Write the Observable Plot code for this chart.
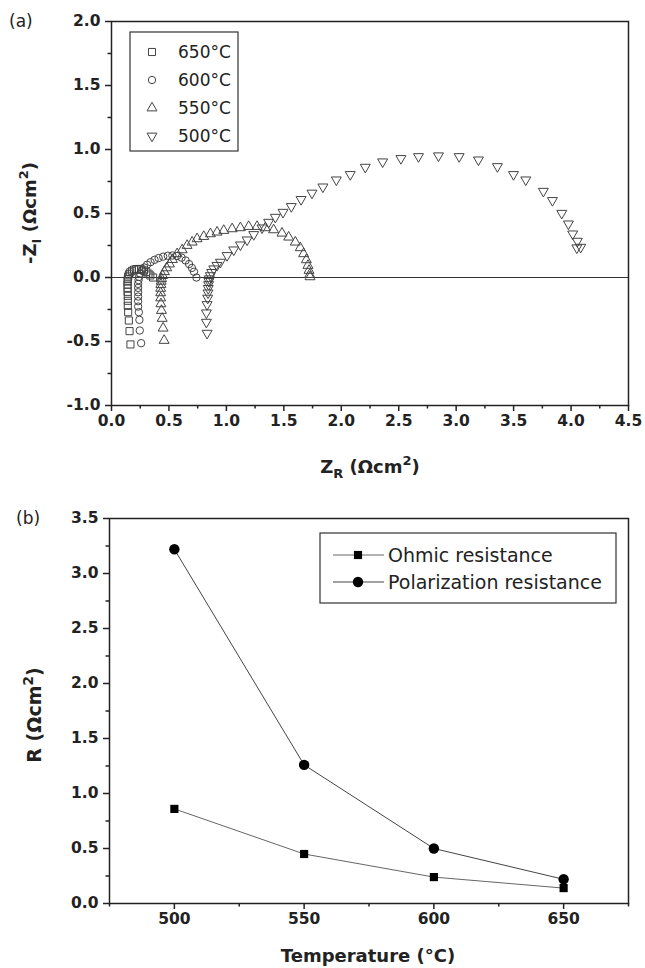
<!DOCTYPE html>
<html><head><meta charset="utf-8">
<script src="https://cdn.jsdelivr.net/npm/d3@7"></script>
<script src="https://cdn.jsdelivr.net/npm/@observablehq/plot@0.6"></script>
<style>body{margin:0;background:#fff} svg{display:block}</style>
</head><body><div id="a"></div><div id="b"></div>
<script>
// ---------- Panel (a): Nyquist data ----------
const legendA = ["650°C", "600°C", "550°C", "500°C"];
const zR650 = [0.165,0.157,0.151,0.145,0.142,0.142,0.142,0.140,0.140,0.140,0.140,0.142,0.145,0.152,0.163,0.178,0.196,0.216,0.238,0.260,0.282,0.303,0.322,0.338,0.362];
const zI650 = [-0.523,-0.419,-0.336,-0.271,-0.221,-0.182,-0.143,-0.112,-0.081,-0.055,-0.032,-0.012,0.008,0.025,0.040,0.052,0.061,0.066,0.067,0.063,0.055,0.044,0.030,0.016,0.000];
const zR600 = [0.258,0.246,0.243,0.238,0.232,0.232,0.232,0.232,0.232,0.232,0.235,0.240,0.250,0.265,0.285,0.310,0.340,0.375,0.410,0.450,0.490,0.530,0.570,0.610,0.645,0.675,0.700,0.718,0.739];
const zI600 = [-0.513,-0.414,-0.331,-0.271,-0.227,-0.185,-0.149,-0.115,-0.081,-0.050,-0.020,0.005,0.030,0.055,0.078,0.100,0.120,0.138,0.152,0.163,0.170,0.172,0.168,0.155,0.133,0.105,0.075,0.045,0.000];
const zR550 = [0.458,0.449,0.441,0.435,0.430,0.428,0.428,0.428,0.430,0.432,0.436,0.445,0.460,0.480,0.505,0.530,0.571,0.615,0.658,0.702,0.745,0.803,0.861,0.919,0.977,1.050,1.122,1.194,1.267,1.339,1.411,1.484,1.542,1.600,1.643,1.672,1.696,1.710,1.719,1.725,1.728];
const zI550 = [-0.492,-0.396,-0.320,-0.258,-0.206,-0.160,-0.120,-0.085,-0.055,-0.030,-0.010,0.015,0.045,0.075,0.105,0.140,0.185,0.216,0.250,0.276,0.302,0.320,0.341,0.354,0.367,0.380,0.388,0.398,0.398,0.388,0.372,0.346,0.315,0.276,0.232,0.185,0.138,0.094,0.055,0.023,0.005];
const zR500 = [0.832,0.826,0.826,0.832,0.837,0.840,0.842,0.845,0.848,0.852,0.860,0.872,0.890,0.918,0.948,1.006,1.064,1.122,1.180,1.238,1.310,1.368,1.426,1.493,1.565,1.650,1.745,1.840,1.957,2.078,2.209,2.360,2.519,2.672,2.846,3.026,3.194,3.359,3.499,3.606,3.759,3.838,3.919,3.977,4.014,4.055,4.084,4.050];
const zI500 = [-0.435,-0.349,-0.276,-0.211,-0.161,-0.120,-0.085,-0.055,-0.030,-0.010,0.015,0.040,0.068,0.095,0.120,0.172,0.216,0.255,0.294,0.336,0.388,0.432,0.471,0.510,0.555,0.610,0.660,0.708,0.763,0.805,0.862,0.904,0.930,0.945,0.951,0.945,0.919,0.867,0.805,0.763,0.674,0.602,0.502,0.419,0.341,0.284,0.237,0.232];
const xTicksA = [0,0.5,1,1.5,2,2.5,3,3.5,4,4.5];
const xMinorA = [0.25,0.75,1.25,1.75,2.25,2.75,3.25,3.75,4.25];
const yTicksA = [-1,-0.5,0,0.5,1,1.5,2];
const yMinorA = [-0.75,-0.25,0.25,0.75,1.25,1.75];

// ---------- Panel (b): resistance data ----------
const temps = [500, 550, 600, 650];
const ohmic = [0.86, 0.45, 0.24, 0.14];
const polarization = [3.22, 1.26, 0.50, 0.22];
const legendB = ["Ohmic resistance", "Polarization resistance"];
const xTicksB = [500, 550, 600, 650];
const xMinorB = [475, 525, 575, 625, 675];
const yTicksB = [0,0.5,1,1.5,2,2.5,3,3.5];
const yMinorB = [0.25,0.75,1.25,1.75,2.25,2.75,3.25];

const FONT = "DejaVu Sans";
const fmt1 = d => d.toFixed(1);

function axes(xT, xM, yT, yM, xfmt, yfmt) {
  return [
    Plot.axisX({ticks: xT, tickSize: 6, tickPadding: 3, tickFormat: xfmt, fontWeight: "bold", fontSize: 15.5, strokeWidth: 1.5, label: null}),
    Plot.axisX({ticks: xM, tickSize: 3.5, tickFormat: () => "", strokeWidth: 1.5, label: null}),
    Plot.axisY({ticks: yT, tickSize: 6, tickPadding: 5, tickFormat: yfmt, fontWeight: "bold", fontSize: 15.5, strokeWidth: 1.5, label: null}),
    Plot.axisY({ticks: yM, tickSize: 3.5, tickFormat: () => "", strokeWidth: 1.5, label: null})
  ];
}

const mk = (xs, ys) => xs.map((x, i) => ({x, y: ys[i]}));
const symStyle = {x: "x", y: "y", fill: "none", stroke: "#444", strokeWidth: 1};

const plotA = Plot.plot({
  width: 645, height: 484,
  marginLeft: 111, marginRight: 17, marginTop: 21, marginBottom: 79,
  style: {fontFamily: FONT, fontSize: "15px", background: "#fff", color: "#222"},
  x: {domain: [0, 4.5]},
  y: {domain: [-1, 2]},
  marks: [
    Plot.ruleY([0], {stroke: "#333", strokeWidth: 1.2}),
    Plot.dot(mk(zR650, zI650), {...symStyle, symbol: "square", r: 4}),
    Plot.dot(mk(zR600, zI600), {...symStyle, symbol: "circle", r: 3.7}),
    Plot.dot(mk(zR550, zI550), {...symStyle, symbol: "triangle", r: 3.7}),
    Plot.dot(mk(zR500, zI500), {...symStyle, symbol: "triangle", r: 3.7, rotate: 180}),
    Plot.frame({stroke: "#222", strokeWidth: 1.5}),
    ...axes(xTicksA, xMinorA, yTicksA, yMinorA, fmt1, fmt1)
  ]
});
document.getElementById("a").appendChild(plotA);

const plotB = Plot.plot({
  width: 645, height: 484,
  marginLeft: 109, marginRight: 17, marginTop: 34, marginBottom: 65,
  style: {fontFamily: FONT, fontSize: "15px", background: "#fff", color: "#222"},
  x: {domain: [475, 675]},
  y: {domain: [0, 3.5]},
  marks: [
    Plot.line(mk(temps, ohmic), {x: "x", y: "y", stroke: "#666", strokeWidth: 1}),
    Plot.line(mk(temps, polarization), {x: "x", y: "y", stroke: "#444", strokeWidth: 1}),
    Plot.dot(mk(temps, ohmic), {x: "x", y: "y", symbol: "square", r: 4.6, fill: "#000"}),
    Plot.dot(mk(temps, polarization), {x: "x", y: "y", symbol: "circle", r: 5.2, fill: "#000"}),
    Plot.frame({stroke: "#222", strokeWidth: 1.5}),
    ...axes(xTicksB, xMinorB, yTicksB, yMinorB, d => String(d), fmt1)
  ]
});
document.getElementById("b").appendChild(plotB);

// ---------- annotations (titles, panel letters, legends) ----------
function richText(g, parts, size) {
  const t = g.append("text").attr("font-family", FONT).attr("font-size", size).attr("font-weight", "bold").attr("fill", "#222");
  let shift = 0;
  for (const [s, kind] of parts) {
    const ts = t.append("tspan").text(s);
    let target = 0;
    if (kind === "sub") { ts.attr("font-size", size * 0.72); target = size * 0.3; }
    else if (kind === "sup") { ts.attr("font-size", size * 0.72); target = -size * 0.42; }
    if (target !== shift) { ts.attr("dy", target - shift); shift = target; }
  }
  return t;
}
function plainText(sel, x, y, size, s) {
  return sel.append("text").attr("x", x).attr("y", y).attr("text-anchor", "start")
    .attr("font-family", FONT).attr("font-size", size).attr("font-weight", "normal").attr("fill", "#222").text(s);
}

const sa = d3.select(plotA);
plainText(sa, 9, 27, 17, "(a)");
richText(sa.append("g").attr("transform", "translate(36,213) rotate(-90)"),
  [["-Z", ""], ["I", "sub"], [" (Ωcm", ""], ["2", "sup"], [")", ""]], 18).attr("text-anchor", "middle");
richText(sa.append("g").attr("transform", "translate(370,473)"),
  [["Z", ""], ["R", "sub"], [" (Ωcm", ""], ["2", "sup"], [")", ""]], 18).attr("text-anchor", "middle");

// legend (a)
const la = sa.append("g");
la.append("rect").attr("x", 130).attr("y", 32).attr("width", 108).attr("height", 119).attr("fill", "none").attr("stroke", "#333").attr("stroke-width", 1.2);
const legSyms = [[d3.symbolSquare, Math.PI * 16, 0], [d3.symbolCircle, Math.PI * 3.7 * 3.7, 0], [d3.symbolTriangle, Math.PI * 3.7 * 3.7, 0], [d3.symbolTriangle, Math.PI * 3.7 * 3.7, 180]];
legendA.forEach((lab, i) => {
  const cy = 52 + i * 28;
  const [type, size, rot] = legSyms[i];
  la.append("path").attr("d", d3.symbol(type, size)()).attr("transform", `translate(152,${cy}) rotate(${rot})`).attr("fill", "none").attr("stroke", "#444");
  plainText(la, 178, cy + 6.2, 17, lab);
});

const sb = d3.select(plotB);
plainText(sb, 16, 40, 17, "(b)");
richText(sb.append("g").attr("transform", "translate(41,231) rotate(-90)"),
  [["R (Ωcm", ""], ["2", "sup"], [")", ""]], 19).attr("text-anchor", "middle");
richText(sb.append("g").attr("transform", "translate(368,478)"),
  [["Temperature (°C)", ""]], 18).attr("text-anchor", "middle");

// legend (b)
const lb = sb.append("g");
lb.append("rect").attr("x", 320).attr("y", 49).attr("width", 296).attr("height", 70).attr("fill", "none").attr("stroke", "#333").attr("stroke-width", 1.2);
const legSymsB = [[d3.symbolSquare, Math.PI * 4.6 * 4.6, "#666"], [d3.symbolCircle, Math.PI * 5.2 * 5.2, "#444"]];
legendB.forEach((lab, i) => {
  const cy = 71 + i * 27;
  const [type, size, lc] = legSymsB[i];
  lb.append("line").attr("x1", 333).attr("x2", 384).attr("y1", cy).attr("y2", cy).attr("stroke", lc).attr("stroke-width", 1);
  lb.append("path").attr("d", d3.symbol(type, size)()).attr("transform", `translate(358,${cy})`).attr("fill", "#000");
  plainText(lb, 388, cy + 7, 19, lab);
});
</script></body></html>
